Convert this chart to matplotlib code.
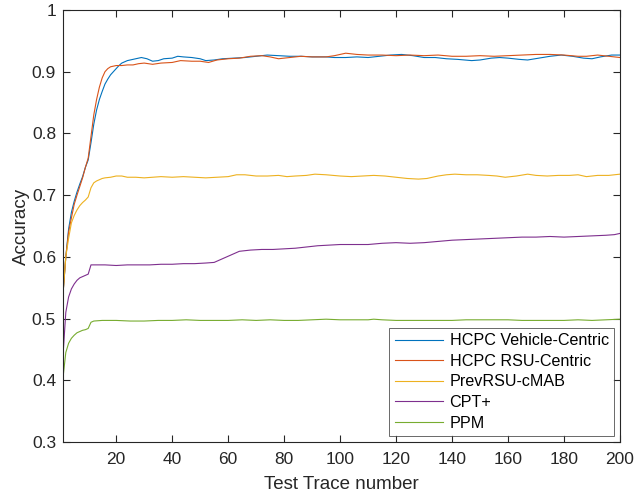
import matplotlib
matplotlib.use('Agg')
import matplotlib.pyplot as plt

plt.rcParams['font.family'] = ['Liberation Sans', 'DejaVu Sans']

# HCPC Vehicle-Centric
x_vc = [1, 2, 3, 4, 5, 6, 7, 8, 9, 10, 11, 12, 13, 14, 15, 16, 17, 18, 19, 20,
        21, 22, 23, 24, 25, 27, 29, 31, 33, 35, 37, 40, 42, 44, 47, 50, 52, 55,
        58, 62, 66, 70, 74, 78, 82, 86, 90, 95, 98, 102, 106, 110, 114, 118,
        122, 126, 130, 134, 138, 142, 147, 150, 154, 157, 160, 164, 167, 171,
        175, 179, 183, 187, 190, 193, 197, 200]
y_vc = [0.54, 0.60, 0.645, 0.672, 0.69, 0.705, 0.718, 0.73, 0.745, 0.757,
        0.785, 0.815, 0.838, 0.855, 0.868, 0.88, 0.888, 0.895, 0.900, 0.905,
        0.91, 0.914, 0.916, 0.918, 0.919, 0.921, 0.923, 0.921, 0.917, 0.918,
        0.921, 0.922, 0.925, 0.924, 0.923, 0.921, 0.918, 0.919, 0.921, 0.922,
        0.923, 0.925, 0.927, 0.926, 0.925, 0.925, 0.924, 0.924, 0.923, 0.923,
        0.924, 0.923, 0.925, 0.927, 0.928, 0.926, 0.923, 0.923, 0.921, 0.920,
        0.918, 0.919, 0.922, 0.923, 0.922, 0.920, 0.919, 0.922, 0.925, 0.927,
        0.925, 0.922, 0.921, 0.924, 0.927, 0.927]

# HCPC RSU-Centric
x_rc = [1, 2, 3, 4, 5, 6, 7, 8, 9, 10, 11, 12, 13, 14, 15, 16, 17, 18, 19, 20,
        22, 24, 26, 28, 30, 33, 36, 40, 43, 47, 50, 53, 56, 60, 64, 68, 72, 75,
        78, 82, 86, 90, 95, 98, 102, 106, 110, 115, 120, 125, 130, 135, 140,
        145, 150, 155, 160, 165, 170, 175, 180, 185, 188, 192, 196, 200]
y_rc = [0.54, 0.60, 0.64, 0.663, 0.685, 0.70, 0.714, 0.728, 0.745, 0.76,
        0.795, 0.83, 0.855, 0.875, 0.89, 0.90, 0.905, 0.908, 0.909, 0.91,
        0.91, 0.911, 0.911, 0.913, 0.914, 0.912, 0.914, 0.915, 0.918, 0.917,
        0.917, 0.915, 0.919, 0.921, 0.922, 0.925, 0.926, 0.924, 0.921, 0.923,
        0.925, 0.924, 0.924, 0.926, 0.93, 0.928, 0.927, 0.927, 0.926, 0.927,
        0.926, 0.927, 0.925, 0.925, 0.926, 0.925, 0.926, 0.927, 0.928, 0.928,
        0.927, 0.925, 0.925, 0.927, 0.925, 0.923]

# PrevRSU-cMAB
x_prev = [1, 2, 3, 4, 5, 6, 7, 8, 9, 10, 11, 12, 13, 14, 15, 16, 18, 20, 22,
          24, 27, 30, 33, 36, 40, 44, 48, 52, 56, 60, 63, 66, 70, 74, 78, 81,
          84, 88, 91, 95, 100, 104, 108, 112, 116, 120, 124, 128, 131, 135,
          138, 141, 145, 149, 153, 156, 159, 163, 167, 170, 174, 178, 182, 185,
          188, 192, 196, 200]
y_prev = [0.54, 0.60, 0.63, 0.655, 0.667, 0.676, 0.683, 0.688, 0.692, 0.697,
          0.712, 0.72, 0.723, 0.725, 0.727, 0.728, 0.729, 0.731, 0.731, 0.729,
          0.729, 0.728, 0.729, 0.730, 0.729, 0.730, 0.729, 0.728, 0.729, 0.730,
          0.733, 0.733, 0.731, 0.731, 0.732, 0.730, 0.731, 0.732, 0.734, 0.733,
          0.731, 0.730, 0.731, 0.732, 0.731, 0.729, 0.727, 0.726, 0.727, 0.731,
          0.733, 0.734, 0.733, 0.733, 0.732, 0.731, 0.729, 0.731, 0.734, 0.732,
          0.731, 0.732, 0.732, 0.733, 0.730, 0.732, 0.732, 0.734]

# CPT+
x_cpt = [1, 2, 3, 4, 5, 6, 7, 8, 9, 10, 11, 13, 16, 20, 24, 28, 32, 36, 40,
         44, 48, 52, 55, 58, 61, 64, 68, 72, 76, 80, 84, 88, 92, 96, 100, 105,
         110, 115, 120, 125, 130, 135, 140, 145, 150, 155, 160, 165, 170, 175,
         180, 185, 190, 195, 198, 200]
y_cpt = [0.44, 0.51, 0.535, 0.548, 0.556, 0.562, 0.566, 0.568, 0.570, 0.572,
         0.587, 0.587, 0.587, 0.586, 0.587, 0.587, 0.587, 0.588, 0.588, 0.589,
         0.589, 0.590, 0.591, 0.597, 0.603, 0.609, 0.611, 0.612, 0.612, 0.613,
         0.614, 0.616, 0.618, 0.619, 0.620, 0.620, 0.620, 0.622, 0.623, 0.622,
         0.623, 0.625, 0.627, 0.628, 0.629, 0.630, 0.631, 0.632, 0.632, 0.633,
         0.632, 0.633, 0.634, 0.635, 0.636, 0.638]

# PPM
x_ppm = [1, 2, 3, 4, 5, 6, 7, 8, 9, 10, 11, 12, 15, 20, 25, 30, 35, 40, 45,
         50, 55, 60, 65, 70, 75, 80, 85, 90, 95, 100, 105, 110, 112, 115, 120,
         125, 130, 135, 140, 145, 150, 155, 160, 165, 170, 175, 180, 185, 190,
         195, 200]
y_ppm = [0.404, 0.445, 0.46, 0.468, 0.473, 0.477, 0.479, 0.481, 0.482, 0.484,
         0.494, 0.496, 0.497, 0.497, 0.496, 0.496, 0.497, 0.497, 0.498, 0.497,
         0.497, 0.497, 0.498, 0.497, 0.498, 0.497, 0.497, 0.498, 0.499, 0.498,
         0.498, 0.498, 0.499, 0.498, 0.497, 0.497, 0.497, 0.497, 0.497, 0.498,
         0.498, 0.498, 0.498, 0.497, 0.497, 0.497, 0.497, 0.498, 0.497, 0.498,
         0.499]

fig = plt.figure(figsize=(6.35, 4.98), dpi=100)
ax = fig.add_axes([63 / 635, 56 / 498, 557 / 635, 432 / 498])

lw = 0.8
ax.plot(x_vc, y_vc, color='#0072BD', lw=lw, label='HCPC Vehicle-Centric')
ax.plot(x_rc, y_rc, color='#D95319', lw=lw, label='HCPC RSU-Centric')
ax.plot(x_prev, y_prev, color='#EDB120', lw=lw, label='PrevRSU-cMAB')
ax.plot(x_cpt, y_cpt, color='#7E2F8E', lw=lw, label='CPT+')
ax.plot(x_ppm, y_ppm, color='#77AC30', lw=lw, label='PPM')

ax.set_xlim(1, 200)
ax.set_ylim(0.3, 1)
ax.set_xticks(range(20, 201, 20))
ax.set_yticks([0.3, 0.4, 0.5, 0.6, 0.7, 0.8, 0.9, 1.0])
ax.set_yticklabels(['0.3', '0.4', '0.5', '0.6', '0.7', '0.8', '0.9', '1'])

axc = '#262626'
for s in ax.spines.values():
    s.set_color(axc)
    s.set_linewidth(0.8)
ax.tick_params(direction='in', top=True, right=True, length=5, width=0.8,
               color=axc, labelcolor=axc, labelsize=12.5)
ax.tick_params(axis='x', pad=7)
ax.tick_params(axis='y', pad=5)

ax.set_xlabel('Test Trace number', fontsize=13.5, color=axc, labelpad=7)
ax.set_ylabel('Accuracy', fontsize=13.5, color=axc, labelpad=1.5)

leg = ax.legend(loc='lower right', fontsize=11.6, frameon=True, fancybox=False,
                handlelength=3.0, borderaxespad=0.35, labelspacing=0.35,
                handletextpad=0.4, borderpad=0.35)
leg.get_frame().set_edgecolor(axc)
leg.get_frame().set_linewidth(0.6)

fig.savefig('out.png', dpi=100)
